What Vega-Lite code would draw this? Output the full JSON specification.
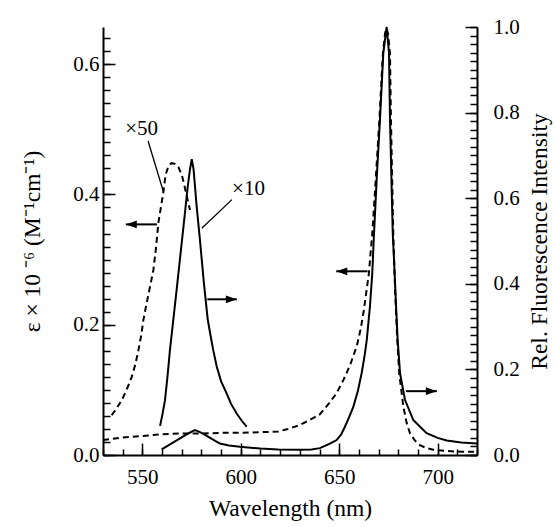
{
  "$schema": "https://vega.github.io/schema/vega-lite/v6.json",
  "width": 374,
  "height": 428,
  "autosize": "none",
  "padding": {"left": 103, "top": 27, "right": 79, "bottom": 72},
  "background": "white",
  "config": {
    "view": {"stroke": null},
    "font": "Liberation Serif",
    "axis": {
      "domainColor": "black",
      "domainWidth": 2,
      "tickColor": "black",
      "tickWidth": 1.5,
      "labelFont": "Liberation Serif",
      "labelFontSize": 21,
      "labelColor": "black",
      "titleFont": "Liberation Serif",
      "titleFontSize": 23.5,
      "titleFontWeight": "normal",
      "titleColor": "black",
      "grid": false,
      "labelOverlap": false,
      "labelFlush": false,
      "labelBound": false
    }
  },
  "datasets": {
    "abs": [
      {"wl": 530, "v": 0.023, "s": "main"},
      {"wl": 540, "v": 0.027, "s": "main"},
      {"wl": 550, "v": 0.029, "s": "main"},
      {"wl": 560, "v": 0.032, "s": "main"},
      {"wl": 570, "v": 0.033, "s": "main"},
      {"wl": 580, "v": 0.033, "s": "main"},
      {"wl": 590, "v": 0.034, "s": "main"},
      {"wl": 600, "v": 0.034, "s": "main"},
      {"wl": 610, "v": 0.035, "s": "main"},
      {"wl": 619, "v": 0.036, "s": "main"},
      {"wl": 624, "v": 0.040, "s": "main"},
      {"wl": 629, "v": 0.045, "s": "main"},
      {"wl": 634, "v": 0.052, "s": "main"},
      {"wl": 640, "v": 0.062, "s": "main"},
      {"wl": 645, "v": 0.080, "s": "main"},
      {"wl": 648, "v": 0.092, "s": "main"},
      {"wl": 651, "v": 0.108, "s": "main"},
      {"wl": 653.5, "v": 0.124, "s": "main"},
      {"wl": 656, "v": 0.142, "s": "main"},
      {"wl": 659, "v": 0.168, "s": "main"},
      {"wl": 661, "v": 0.195, "s": "main"},
      {"wl": 662.5, "v": 0.222, "s": "main"},
      {"wl": 664, "v": 0.255, "s": "main"},
      {"wl": 665, "v": 0.277, "s": "main"},
      {"wl": 666.8, "v": 0.340, "s": "main"},
      {"wl": 668.6, "v": 0.425, "s": "main"},
      {"wl": 670.4, "v": 0.514, "s": "main"},
      {"wl": 672.2, "v": 0.617, "s": "main"},
      {"wl": 673.3, "v": 0.648, "s": "main"},
      {"wl": 674.1, "v": 0.655, "s": "main"},
      {"wl": 674.9, "v": 0.645, "s": "main"},
      {"wl": 675.8, "v": 0.616, "s": "main"},
      {"wl": 676.3, "v": 0.514, "s": "main"},
      {"wl": 677.5, "v": 0.335, "s": "main"},
      {"wl": 678.5, "v": 0.245, "s": "main"},
      {"wl": 679.5, "v": 0.176, "s": "main"},
      {"wl": 680.5, "v": 0.125, "s": "main"},
      {"wl": 682.6, "v": 0.074, "s": "main"},
      {"wl": 684.2, "v": 0.050, "s": "main"},
      {"wl": 686.0, "v": 0.033, "s": "main"},
      {"wl": 688.5, "v": 0.022, "s": "main"},
      {"wl": 691.0, "v": 0.015, "s": "main"},
      {"wl": 694.0, "v": 0.011, "s": "main"},
      {"wl": 697.8, "v": 0.008, "s": "main"},
      {"wl": 705, "v": 0.006, "s": "main"},
      {"wl": 712, "v": 0.005, "s": "main"},
      {"wl": 720, "v": 0.005, "s": "main"},
      {"wl": 534.4, "v": 0.061, "s": "x50"},
      {"wl": 537.0, "v": 0.072, "s": "x50"},
      {"wl": 539.5, "v": 0.084, "s": "x50"},
      {"wl": 542.0, "v": 0.100, "s": "x50"},
      {"wl": 544.6, "v": 0.120, "s": "x50"},
      {"wl": 546.5, "v": 0.140, "s": "x50"},
      {"wl": 548.0, "v": 0.161, "s": "x50"},
      {"wl": 549.5, "v": 0.185, "s": "x50"},
      {"wl": 550.5, "v": 0.207, "s": "x50"},
      {"wl": 552.5, "v": 0.238, "s": "x50"},
      {"wl": 554.0, "v": 0.260, "s": "x50"},
      {"wl": 555.6, "v": 0.284, "s": "x50"},
      {"wl": 557.0, "v": 0.320, "s": "x50"},
      {"wl": 558.1, "v": 0.356, "s": "x50"},
      {"wl": 560.6, "v": 0.402, "s": "x50"},
      {"wl": 561.8, "v": 0.430, "s": "x50"},
      {"wl": 563.3, "v": 0.444, "s": "x50"},
      {"wl": 564.9, "v": 0.448, "s": "x50"},
      {"wl": 566.5, "v": 0.447, "s": "x50"},
      {"wl": 568.3, "v": 0.442, "s": "x50"},
      {"wl": 570.0, "v": 0.430, "s": "x50"},
      {"wl": 571.1, "v": 0.417, "s": "x50"},
      {"wl": 572.5, "v": 0.398, "s": "x50"},
      {"wl": 574.2, "v": 0.376, "s": "x50"}
    ],
    "fl": [
      {"wl": 559.8, "v": 0.013, "s": "main"},
      {"wl": 563, "v": 0.022, "s": "main"},
      {"wl": 567, "v": 0.033, "s": "main"},
      {"wl": 571, "v": 0.044, "s": "main"},
      {"wl": 574, "v": 0.052, "s": "main"},
      {"wl": 576.7, "v": 0.058, "s": "main"},
      {"wl": 579, "v": 0.054, "s": "main"},
      {"wl": 581.5, "v": 0.048, "s": "main"},
      {"wl": 584.4, "v": 0.040, "s": "main"},
      {"wl": 587, "v": 0.033, "s": "main"},
      {"wl": 589.4, "v": 0.027, "s": "main"},
      {"wl": 594, "v": 0.022, "s": "main"},
      {"wl": 599.6, "v": 0.019, "s": "main"},
      {"wl": 605, "v": 0.017, "s": "main"},
      {"wl": 610, "v": 0.015, "s": "main"},
      {"wl": 619, "v": 0.013, "s": "main"},
      {"wl": 630, "v": 0.012, "s": "main"},
      {"wl": 636, "v": 0.013, "s": "main"},
      {"wl": 640.2, "v": 0.016, "s": "main"},
      {"wl": 645, "v": 0.026, "s": "main"},
      {"wl": 648.7, "v": 0.035, "s": "main"},
      {"wl": 651, "v": 0.048, "s": "main"},
      {"wl": 652.9, "v": 0.066, "s": "main"},
      {"wl": 655, "v": 0.088, "s": "main"},
      {"wl": 657.2, "v": 0.113, "s": "main"},
      {"wl": 659.5, "v": 0.150, "s": "main"},
      {"wl": 661.4, "v": 0.191, "s": "main"},
      {"wl": 663, "v": 0.235, "s": "main"},
      {"wl": 664.0, "v": 0.269, "s": "main"},
      {"wl": 665.6, "v": 0.346, "s": "main"},
      {"wl": 666.8, "v": 0.425, "s": "main"},
      {"wl": 667.6, "v": 0.510, "s": "main"},
      {"wl": 669.1, "v": 0.650, "s": "main"},
      {"wl": 670.7, "v": 0.783, "s": "main"},
      {"wl": 672.4, "v": 0.939, "s": "main"},
      {"wl": 674.1, "v": 1.0, "s": "main"},
      {"wl": 675.3, "v": 0.939, "s": "main"},
      {"wl": 675.8, "v": 0.783, "s": "main"},
      {"wl": 677.2, "v": 0.519, "s": "main"},
      {"wl": 678.0, "v": 0.440, "s": "main"},
      {"wl": 678.9, "v": 0.346, "s": "main"},
      {"wl": 679.7, "v": 0.269, "s": "main"},
      {"wl": 680.9, "v": 0.191, "s": "main"},
      {"wl": 683.4, "v": 0.129, "s": "main"},
      {"wl": 687.6, "v": 0.082, "s": "main"},
      {"wl": 694.4, "v": 0.051, "s": "main"},
      {"wl": 700, "v": 0.040, "s": "main"},
      {"wl": 704.6, "v": 0.034, "s": "main"},
      {"wl": 712, "v": 0.029, "s": "main"},
      {"wl": 720, "v": 0.027, "s": "main"},
      {"wl": 559.0, "v": 0.068, "s": "x10"},
      {"wl": 560.2, "v": 0.095, "s": "x10"},
      {"wl": 561.5, "v": 0.128, "s": "x10"},
      {"wl": 562.8, "v": 0.185, "s": "x10"},
      {"wl": 564.0, "v": 0.245, "s": "x10"},
      {"wl": 565.7, "v": 0.315, "s": "x10"},
      {"wl": 567.5, "v": 0.390, "s": "x10"},
      {"wl": 569.5, "v": 0.475, "s": "x10"},
      {"wl": 571.5, "v": 0.560, "s": "x10"},
      {"wl": 573.0, "v": 0.625, "s": "x10"},
      {"wl": 574.2, "v": 0.668, "s": "x10"},
      {"wl": 575.1, "v": 0.691, "s": "x10"},
      {"wl": 576.0, "v": 0.668, "s": "x10"},
      {"wl": 577.6, "v": 0.580, "s": "x10"},
      {"wl": 579.3, "v": 0.500, "s": "x10"},
      {"wl": 581.3, "v": 0.400, "s": "x10"},
      {"wl": 583.2, "v": 0.317, "s": "x10"},
      {"wl": 584.4, "v": 0.285, "s": "x10"},
      {"wl": 586.0, "v": 0.245, "s": "x10"},
      {"wl": 587.8, "v": 0.206, "s": "x10"},
      {"wl": 590.0, "v": 0.172, "s": "x10"},
      {"wl": 592.8, "v": 0.144, "s": "x10"},
      {"wl": 595.0, "v": 0.120, "s": "x10"},
      {"wl": 597.9, "v": 0.097, "s": "x10"},
      {"wl": 600.5, "v": 0.080, "s": "x10"},
      {"wl": 603.0, "v": 0.066, "s": "x10"}
    ],
    "leaders": [
      {"wa": 552.9, "wb": 560.8, "va": 0.482, "vb": 0.403},
      {"wa": 595.5, "wb": 580.2, "va": 0.392, "vb": 0.348}
    ],
    "labels": [
      {"wl": 549.6, "v": 0.501, "t": "×50"},
      {"wl": 603.9, "v": 0.409, "t": "×10"}
    ],
    "arrows": [
      {"tail": 557.4, "tip": 541.6, "v": 0.354, "dir": "left"},
      {"tail": 583.0, "tip": 598.0, "v": 0.239, "dir": "right"},
      {"tail": 664.4, "tip": 648.5, "v": 0.282, "dir": "left"},
      {"tail": 683.9, "tip": 699.6, "v": 0.098, "dir": "right"}
    ]
  },
  "layer": [
    {
      "data": {"name": "abs"},
      "transform": [{"filter": "datum.s === 'main'"}],
      "mark": {"type": "line", "color": "black", "strokeWidth": 2, "strokeDash": [6, 4]},
      "encoding": {
        "x": {
          "field": "wl", "type": "quantitative",
          "scale": {"domain": [530, 720], "nice": false, "zero": false},
          "axis": {
            "orient": "bottom",
            "title": "Wavelength (nm)",
            "values": [530, 540, 550, 560, 570, 580, 590, 600, 610, 620, 630, 640, 650, 660, 670, 680, 690, 700, 710, 720],
            "labelExpr": "abs(datum.value/50 - round(datum.value/50)) < 0.001 ? format(datum.value, 'd') : ''",
            "tickSize": -6,
            "labelPadding": 17,
            "titlePadding": 9
          }
        },
        "y": {
          "field": "v", "type": "quantitative",
          "scale": {"domain": [0, 0.657], "nice": false, "zero": false},
          "axis": {
            "orient": "left",
            "title": "ε × 10 ⁻⁶ (M⁻¹cm⁻¹)",
            "values": [0, 0.02, 0.04, 0.06, 0.08, 0.1, 0.12, 0.14, 0.16, 0.18, 0.2, 0.22, 0.24, 0.26, 0.28, 0.3, 0.32, 0.34, 0.36, 0.38, 0.4, 0.42, 0.44, 0.46, 0.48, 0.5, 0.52, 0.54, 0.56, 0.58, 0.6, 0.62, 0.64],
            "labelExpr": "abs(datum.value*5 - round(datum.value*5)) < 0.001 ? format(datum.value, '.1f') : ''",
            "tickSize": -7,
            "labelPadding": 11,
            "titlePadding": 28
          }
        }
      }
    },
    {
      "data": {"name": "abs"},
      "transform": [{"filter": "datum.s === 'x50'"}],
      "mark": {"type": "line", "color": "black", "strokeWidth": 2, "strokeDash": [6, 4]},
      "encoding": {
        "x": {
          "field": "wl", "type": "quantitative",
          "scale": {"domain": [530, 720], "nice": false, "zero": false},
          "axis": {"orient": "bottom", "title": null, "values": [550, 600, 650, 700], "tickSize": -12, "labels": false, "domain": false}
        },
        "y": {
          "field": "v", "type": "quantitative",
          "scale": {"domain": [0, 0.657], "nice": false, "zero": false},
          "axis": {"orient": "left", "title": null, "values": [0, 0.2, 0.4, 0.6], "tickSize": -12, "labels": false, "domain": false}
        }
      }
    },
    {
      "data": {"name": "fl"},
      "transform": [{"filter": "datum.s === 'main'"}],
      "mark": {"type": "line", "color": "black", "strokeWidth": 2},
      "encoding": {
        "x": {"field": "wl", "type": "quantitative", "scale": {"domain": [530, 720], "nice": false, "zero": false}, "axis": null},
        "y": {
          "field": "v", "type": "quantitative",
          "scale": {"domain": [0, 1], "nice": false, "zero": false},
          "axis": {
            "orient": "right",
            "title": "Rel. Fluorescence Intensity",
            "titleAngle": 270,
            "titleBaseline": "top",
            "values": [0, 0.02, 0.04, 0.06, 0.08, 0.1, 0.12, 0.14, 0.16, 0.18, 0.2, 0.22, 0.24, 0.26, 0.28, 0.3, 0.32, 0.34, 0.36, 0.38, 0.4, 0.42, 0.44, 0.46, 0.48, 0.5, 0.52, 0.54, 0.56, 0.58, 0.6, 0.62, 0.64, 0.66, 0.68, 0.7, 0.72, 0.74, 0.76, 0.78, 0.8, 0.82, 0.84, 0.86, 0.88, 0.9, 0.92, 0.94, 0.96, 0.98, 1.0],
            "labelExpr": "abs(datum.value*5 - round(datum.value*5)) < 0.001 ? format(datum.value, '.1f') : ''",
            "tickSize": -7,
            "labelPadding": 23,
            "titlePadding": 8
          }
        }
      }
    },
    {
      "data": {"name": "fl"},
      "transform": [{"filter": "datum.s === 'x10'"}],
      "mark": {"type": "line", "color": "black", "strokeWidth": 2},
      "encoding": {
        "x": {"field": "wl", "type": "quantitative", "scale": {"domain": [530, 720], "nice": false, "zero": false}, "axis": null},
        "y": {
          "field": "v", "type": "quantitative",
          "scale": {"domain": [0, 1], "nice": false, "zero": false},
          "axis": {"orient": "right", "title": null, "values": [0, 0.2, 0.4, 0.6, 0.8, 1.0], "tickSize": -12, "labels": false, "domain": false}
        }
      }
    },
    {
      "data": {"name": "leaders"},
      "mark": {"type": "rule", "color": "black", "strokeWidth": 1.3},
      "encoding": {
        "x": {"field": "wa", "type": "quantitative", "scale": {"domain": [530, 720], "nice": false, "zero": false}, "axis": null},
        "x2": {"field": "wb"},
        "y": {"field": "va", "type": "quantitative", "scale": {"domain": [0, 0.657], "nice": false, "zero": false}, "axis": null},
        "y2": {"field": "vb"}
      }
    },
    {
      "data": {"name": "labels"},
      "mark": {"type": "text", "color": "black", "font": "Liberation Serif", "fontSize": 21, "align": "center", "baseline": "middle"},
      "encoding": {
        "x": {"field": "wl", "type": "quantitative", "scale": {"domain": [530, 720], "nice": false, "zero": false}, "axis": null},
        "y": {"field": "v", "type": "quantitative", "scale": {"domain": [0, 0.657], "nice": false, "zero": false}, "axis": null},
        "text": {"field": "t"}
      }
    },
    {
      "data": {"name": "arrows"},
      "mark": {"type": "rule", "color": "black", "strokeWidth": 2},
      "encoding": {
        "x": {"field": "tail", "type": "quantitative", "scale": {"domain": [530, 720], "nice": false, "zero": false}, "axis": null},
        "x2": {"field": "tip"},
        "y": {"field": "v", "type": "quantitative", "scale": {"domain": [0, 0.657], "nice": false, "zero": false}, "axis": null}
      }
    },
    {
      "data": {"name": "arrows"},
      "mark": {"type": "point", "filled": true, "color": "black", "opacity": 1, "size": 121},
      "encoding": {
        "x": {"field": "tip", "type": "quantitative", "scale": {"domain": [530, 720], "nice": false, "zero": false}, "axis": null},
        "y": {"field": "v", "type": "quantitative", "scale": {"domain": [0, 0.657], "nice": false, "zero": false}, "axis": null},
        "shape": {
          "field": "dir", "type": "nominal",
          "scale": {"domain": ["left", "right"], "range": ["M0,0L2,-0.7L2,0.7Z", "M0,0L-2,-0.7L-2,0.7Z"]},
          "legend": null
        }
      }
    }
  ],
  "resolve": {"scale": {"x": "independent", "y": "independent"}, "axis": {"x": "independent", "y": "independent"}}
}
